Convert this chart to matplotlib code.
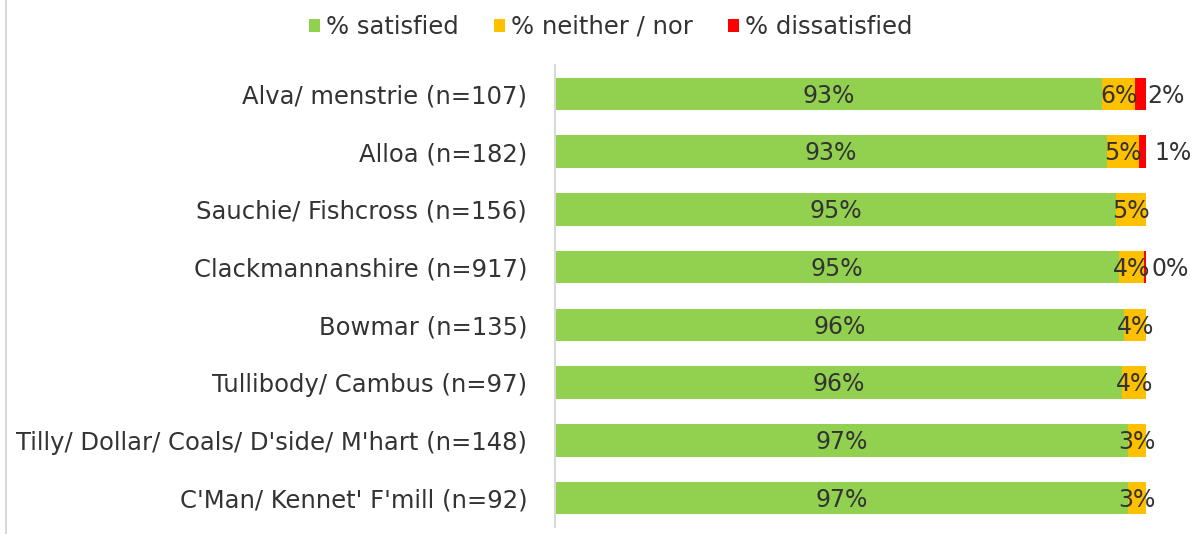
import matplotlib
matplotlib.use("Agg")
import matplotlib.pyplot as plt
from matplotlib.lines import Line2D
from matplotlib.patches import Patch

categories = [
    "Alva/ menstrie (n=107)",
    "Alloa (n=182)",
    "Sauchie/ Fishcross (n=156)",
    "Clackmannanshire (n=917)",
    "Bowmar (n=135)",
    "Tullibody/ Cambus (n=97)",
    "Tilly/ Dollar/ Coals/ D'side/ M'hart (n=148)",
    "C'Man/ Kennet' F'mill (n=92)",
]
satisfied = [92.6, 93.4, 95.0, 95.4, 96.3, 96.0, 97.0, 97.0]
neither = [5.6, 5.4, 5.0, 4.2, 3.7, 4.0, 3.0, 3.0]
dissatisfied = [1.8, 1.2, 0.0, 0.4, 0.0, 0.0, 0.0, 0.0]
show_dissat = [True, True, False, True, False, False, False, False]
dissat_offset = [0.2, 1.5, 0.0, 0.9, 0, 0, 0, 0]
series_names = ["% satisfied", "% neither / nor", "% dissatisfied"]
colors = ["#92D050", "#FFC000", "#FF0000"]

plt.rcParams['font.family'] = ['DejaVu Sans']
txt = "#333333"
fs = 17.5
fs_lbl = 17

fig = plt.figure(figsize=(11.95, 5.34), dpi=100)
ax = fig.add_axes([555/1195, 7/534, (1146-555)/1195, (527-65)/534])

y = list(range(len(categories)))
h = 0.56
ax.barh(y, satisfied, height=h, color=colors[0])
ax.barh(y, neither, left=satisfied, height=h, color=colors[1])
left3 = [a + b for a, b in zip(satisfied, neither)]
ax.barh(y, dissatisfied, left=left3, height=h, color=colors[2])

for i in y:
    ax.text(satisfied[i] / 2, i + 0.03, f"{round(satisfied[i])}%", ha='center', va='center',
            fontsize=fs_lbl, color=txt)
    ax.text(satisfied[i] + neither[i] / 2, i + 0.03, f"{round(neither[i])}%", ha='center',
            va='center', fontsize=fs_lbl, color=txt, clip_on=False)
    if show_dissat[i]:
        ax.text(left3[i] + dissatisfied[i] + dissat_offset[i], i + 0.03,
                f"{round(dissatisfied[i])}%", ha='left', va='center',
                fontsize=fs_lbl, color=txt, clip_on=False)

ax.set_xlim(0, 100)
ax.set_ylim(7.5, -0.5)
ax.set_yticks(y)
ax.set_yticklabels(categories, fontsize=fs, color=txt)
ax.tick_params(axis='y', length=0, pad=20)
ax.set_xticks([])
for s in ['top', 'right', 'bottom']:
    ax.spines[s].set_visible(False)
ax.spines['left'].set_color('#D9D9D9')
ax.spines['left'].set_linewidth(1.5)

handles = [Patch(facecolor=c, edgecolor='none') for c in colors]
fig.legend(handles, series_names, loc='center', bbox_to_anchor=(611/1195, 1 - 27/534),
           ncol=3, frameon=False, fontsize=fs, labelcolor=txt,
           handlelength=0.45, handleheight=0.45, handletextpad=0.25, columnspacing=1.45)

fig.add_artist(Line2D([6/1195, 6/1195], [0, 1], transform=fig.transFigure,
                      color='#D9D9D9', linewidth=1.5))

fig.savefig("out.png", dpi=100)
